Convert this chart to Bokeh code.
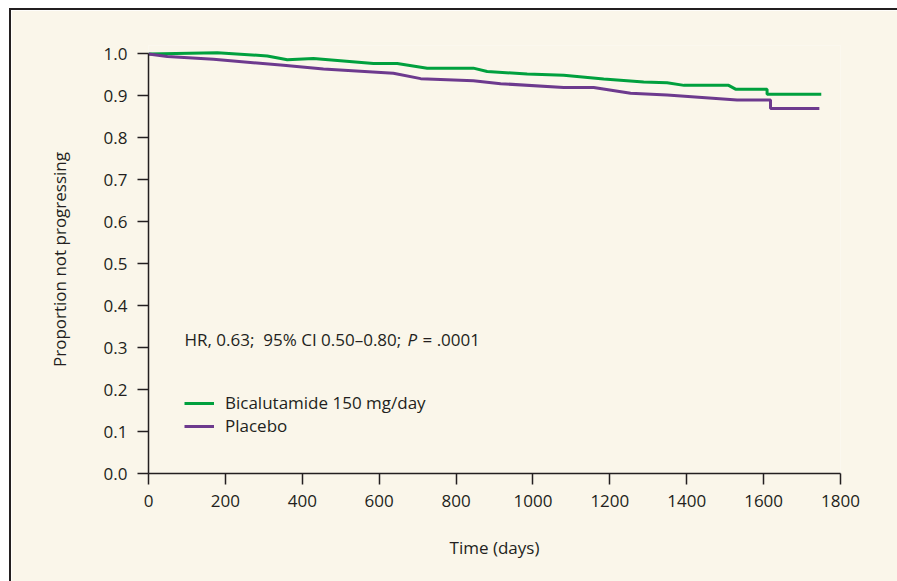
from bokeh.plotting import figure
from bokeh.models import Range1d, Legend, LegendItem, Label, FixedTicker, CustomJSTickFormatter
from bokeh.embed import file_html
from bokeh.resources import INLINE

# ---- data ----
bical_days = [0, 179, 309, 361, 429, 585, 647, 725, 845, 881, 985, 1080, 1184, 1288, 1349, 1393, 1509, 1527, 1609, 1609, 1750]
bical_prop = [1.0, 1.003, 0.995, 0.986, 0.989, 0.977, 0.977, 0.966, 0.966, 0.958, 0.952, 0.949, 0.940, 0.933, 0.931, 0.925, 0.925, 0.916, 0.916, 0.904, 0.904]
plac_days = [0, 49, 169, 351, 455, 637, 708, 845, 916, 1080, 1158, 1254, 1349, 1531, 1618, 1618, 1745]
plac_prop = [1.0, 0.994, 0.987, 0.973, 0.964, 0.954, 0.941, 0.936, 0.929, 0.920, 0.920, 0.906, 0.902, 0.890, 0.890, 0.870, 0.870]
x_ticks = [0, 200, 400, 600, 800, 1000, 1200, 1400, 1600, 1800]
y_ticks = [0.0, 0.1, 0.2, 0.3, 0.4, 0.5, 0.6, 0.7, 0.8, 0.9, 1.0]
series_names = ["Bicalutamide 150 mg/day", "Placebo"]
stats_text = ["HR, 0.63;\u00a0 95% CI 0.50\u20130.80;", "P", "= .0001"]

BG = "#FAF6EA"
INK = "#231F20"
GREEN = "#00A03E"
PURPLE = "#6D3A8E"
FONT = "Open Sans"
FS = "17px"

p = figure(width=886, height=571, frame_width=692, frame_height=428,
           output_backend="svg", toolbar_location=None,
           x_range=Range1d(0, 1800), y_range=Range1d(0, 1.02),
           min_border_left=137, min_border_right=57, min_border_top=35, min_border_bottom=108)
p.styles = {"margin-left": "9px", "margin-top": "8px",
            "border-left": "2px solid " + INK, "border-top": "2px solid " + INK}
p.background_fill_color = BG
p.border_fill_color = BG
p.outline_line_color = None
p.grid.grid_line_color = None

for ax in (p.xaxis[0], p.yaxis[0]):
    ax.axis_line_color = INK
    ax.axis_line_width = 1.5
    ax.major_tick_line_color = INK
    ax.major_tick_line_width = 1.5
    ax.major_tick_out = 11
    ax.major_tick_in = 0
    ax.minor_tick_line_color = None
    ax.major_label_text_font = FONT
    ax.major_label_text_font_size = FS
    ax.major_label_text_color = INK
    ax.axis_label_text_font = FONT
    ax.axis_label_text_font_size = FS
    ax.axis_label_text_font_style = "normal"
    ax.axis_label_text_color = INK
    ax.major_label_standoff = 10

p.xaxis.ticker = FixedTicker(ticks=x_ticks)
p.yaxis.ticker = FixedTicker(ticks=y_ticks)
p.yaxis.bounds = (0, 1)
p.xaxis.bounds = (0, 1800)
p.yaxis.formatter = CustomJSTickFormatter(code="return tick.toFixed(1);")
p.xaxis.axis_label = "Time (days)"
p.yaxis.axis_label = "Proportion not progressing"
p.xaxis.axis_label_standoff = 26
p.yaxis.axis_label_standoff = 30

r1 = p.line(bical_days, bical_prop, line_color=GREEN, line_width=3)
r2 = p.line(plac_days, plac_prop, line_color=PURPLE, line_width=3)

legend = Legend(items=[LegendItem(label=series_names[0], renderers=[r1]),
                       LegendItem(label=series_names[1], renderers=[r2])],
                location=(36, 36), background_fill_alpha=0, border_line_color=None,
                glyph_width=30, glyph_height=20, label_standoff=11, spacing=0, padding=0,
                margin=0, label_text_font=FONT, label_text_font_size=FS,
                label_text_color=INK)
p.add_layout(legend, "center")

lbl_common = dict(x_units="screen", y_units="screen", text_font=FONT,
                  text_font_size=FS, text_color=INK, text_baseline="alphabetic")
p.add_layout(Label(x=36, y=134, text=stats_text[0], **lbl_common))
p.add_layout(Label(x=259, y=134, text=stats_text[1], text_font_style="italic", **lbl_common))
p.add_layout(Label(x=274, y=134, text=stats_text[2], **lbl_common))

open("out.html", "w").write(file_html(p, INLINE))
